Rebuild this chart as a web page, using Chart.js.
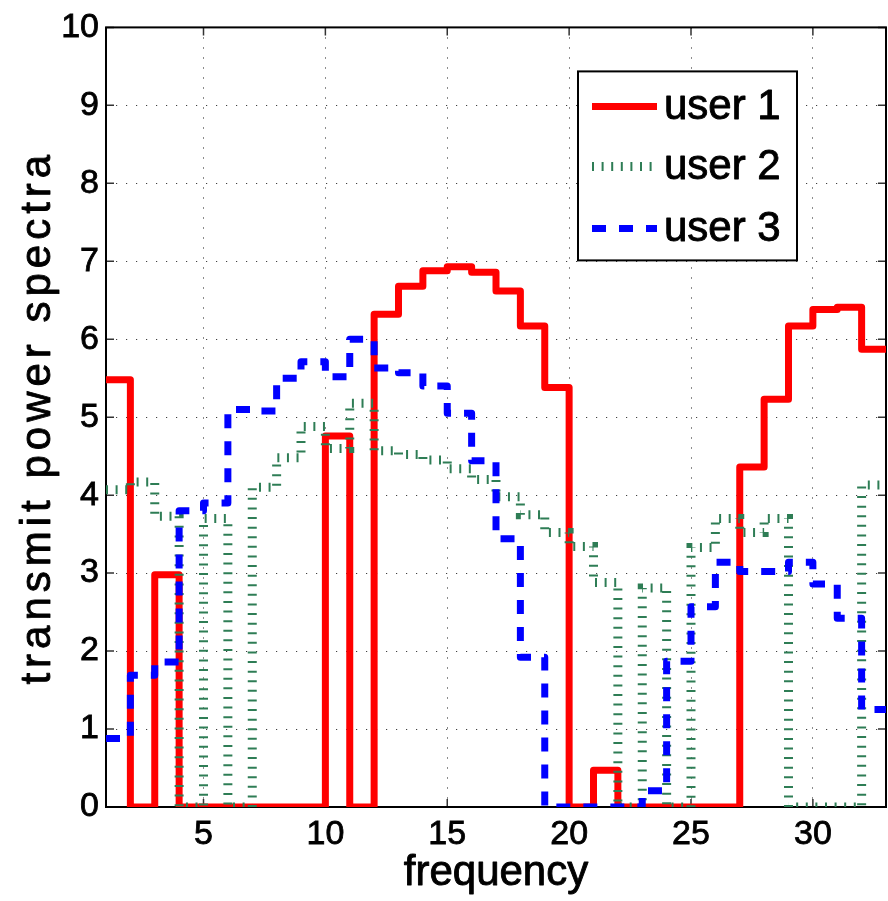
<!DOCTYPE html>
<html>
<head>
<meta charset="utf-8">
<script src="https://cdn.jsdelivr.net/npm/chart.js@4"></script>
<style>
  html, body { margin: 0; padding: 0; background: #fff; }
  #wrap { width: 888px; height: 901px; }
</style>
</head>
<body>
<div id="wrap"><canvas id="spectra"></canvas></div>
<script>
// frequency bins: each value holds from f to f+1
var frequency = [1,2,3,4,5,6,7,8,9,10,11,12,13,14,15,16,17,18,19,20,21,22,23,24,25,26,27,28,29,30,31,32];
var freqEnd = 33;

var user1 = [5.48, 0, 2.98, 0, 0, 0, 0, 0, 0, 4.76, 0, 6.32, 6.68, 6.88, 6.93, 6.86,
             6.62, 6.17, 5.38, 0, 0.47, 0, 0, 0, 0, 0, 4.36, 5.23, 6.17, 6.38, 6.41, 5.87];
var user2 = [4.07, 4.17, 3.73, 0, 3.70, 0, 4.10, 4.48, 4.88, 4.60, 5.18, 4.57, 4.52, 4.45, 4.34, 4.20,
             3.98, 3.75, 3.52, 3.34, 2.88, 0, 2.81, 0, 3.33, 3.70, 3.52, 3.70, 0, 0, 0, 4.13];
var user3 = [0.88, 1.69, 1.86, 3.80, 3.90, 5.10, 5.08, 5.50, 5.71, 5.52, 6.00, 5.63, 5.57, 5.40, 5.05, 4.44,
             3.44, 1.92, 0, 0, 0, 0, 0.21, 1.87, 2.57, 3.14, 3.02, 3.02, 3.14, 2.86, 2.42, 1.25];

var xTicks = [5, 10, 15, 20, 25, 30];
var yTicks = [0, 1, 2, 3, 4, 5, 6, 7, 8, 9, 10];
var xTitle = 'frequency';
var yTitle = 'transmit power spectra';

var FONT = '"Liberation Sans", Arial, Helvetica, sans-serif';

// stairs: add the closing point at the end of the last bin
function stairs(vals) {
  var pts = frequency.map(function (f, i) { return { x: f, y: vals[i] }; });
  pts.push({ x: freqEnd, y: vals[vals.length - 1] });
  return pts;
}

// slightly heavier text, like the thick print labels
function heavyText(ctx, text, x, y) {
  ctx.lineWidth = 0.9;
  ctx.strokeStyle = '#000';
  ctx.lineJoin = 'round';
  ctx.strokeText(text, x, y);
  ctx.fillText(text, x, y);
}

// box around the axes plus inward tick marks on all four sides
var frameBox = {
  id: 'frameBox',
  beforeDatasetsDraw: function (chart) {
    var ctx = chart.ctx, a = chart.chartArea;
    var xs = chart.scales.x, ys = chart.scales.y;
    ctx.save();
    ctx.strokeStyle = '#333';
    ctx.lineWidth = 1.5;
    ctx.beginPath();
    xs.ticks.forEach(function (t) {
      var px = xs.getPixelForValue(t.value);
      ctx.moveTo(px, a.bottom); ctx.lineTo(px, a.bottom - 8);
      ctx.moveTo(px, a.top); ctx.lineTo(px, a.top + 8);
    });
    ys.ticks.forEach(function (t) {
      var py = ys.getPixelForValue(t.value);
      ctx.moveTo(a.left, py); ctx.lineTo(a.left + 8, py);
      ctx.moveTo(a.right, py); ctx.lineTo(a.right - 8, py);
    });
    ctx.stroke();
    ctx.strokeStyle = '#000';
    ctx.lineWidth = 2;
    ctx.strokeRect(a.left, a.top, a.right - a.left, a.bottom - a.top);
    ctx.restore();
  }
};

// axis titles; the rotated one is letter-spaced
var axisTitles = {
  id: 'axisTitles',
  afterDraw: function (chart) {
    var ctx = chart.ctx, a = chart.chartArea;
    ctx.save();
    ctx.font = '42px ' + FONT;
    ctx.fillStyle = '#000';
    ctx.textAlign = 'center';
    ctx.textBaseline = 'middle';
    heavyText(ctx, xTitle, (a.left + a.right) / 2, 873);
    ctx.translate(38, (a.top + a.bottom) / 2);
    ctx.rotate(-Math.PI / 2);
    if ('letterSpacing' in ctx) ctx.letterSpacing = '5px';
    heavyText(ctx, yTitle, 0, 0);
    ctx.restore();
  }
};

// boxed legend in the upper right of the plot
var boxLegend = {
  id: 'boxLegend',
  afterDatasetsDraw: function (chart) {
    var ctx = chart.ctx, a = chart.chartArea;
    var left = a.right - 308, top = a.top + 44, w = 219, h = 189;
    var rows = [35, 95, 157];
    ctx.save();
    ctx.fillStyle = '#fff';
    ctx.fillRect(left, top, w, h);
    ctx.strokeStyle = '#000';
    ctx.lineWidth = 2;
    ctx.strokeRect(left, top, w, h);
    chart.data.datasets.forEach(function (ds, i) {
      var y = top + rows[i];
      ctx.save();
      ctx.strokeStyle = ds.borderColor;
      ctx.lineWidth = ds.borderWidth;
      ctx.lineCap = 'butt';
      ctx.setLineDash(ds.borderDash || []);
      ctx.beginPath();
      ctx.moveTo(left + 14, y);
      ctx.lineTo(left + 79, y);
      ctx.stroke();
      ctx.restore();
      ctx.fillStyle = '#000';
      ctx.font = '42px ' + FONT;
      ctx.textBaseline = 'middle';
      ctx.textAlign = 'left';
      heavyText(ctx, ds.label, left + 86, y + 1);
    });
    ctx.restore();
  }
};

var ctx = document.getElementById('spectra');

var chart = new Chart(ctx, {
  type: 'line',
  data: {
    datasets: [
      {
        label: 'user 1',
        data: stairs(user1),
        borderColor: '#ff0000',
        borderWidth: 7,
        borderJoinStyle: 'round',
        order: 3
      },
      {
        label: 'user 2',
        data: stairs(user2),
        borderColor: '#2e7d55',
        borderWidth: 9,
        borderDash: [2, 7.6],
        borderCapStyle: 'butt',
        order: 2
      },
      {
        label: 'user 3',
        data: stairs(user3),
        borderColor: '#0000ff',
        borderWidth: 7,
        borderDash: [14, 13],
        borderCapStyle: 'butt',
        borderJoinStyle: 'round',
        order: 1
      }
    ]
  },
  options: {
    responsive: true,
    maintainAspectRatio: false,
    animation: false,
    elements: {
      point: { radius: 0 },
      line: { stepped: 'before', tension: 0, fill: false }
    },
    layout: { padding: { top: 21, right: 2, left: 0, bottom: 0 } },
    plugins: {
      legend: { display: false },
      tooltip: { enabled: false }
    },
    scales: {
      x: {
        type: 'linear',
        min: 1,
        max: freqEnd,
        afterBuildTicks: function (s) { s.ticks = xTicks.map(function (v) { return { value: v }; }); },
        afterFit: function (s) { s.height = 94; },
        ticks: {
          color: '#000', font: { family: FONT, size: 34 }, padding: 7, maxRotation: 0,
          textStrokeColor: '#000', textStrokeWidth: 0.8
        },
        grid: { color: 'rgba(0,0,0,0.75)', lineWidth: 1, drawTicks: false },
        border: { display: false, dash: [1.2, 8.8] },
        title: { display: false }
      },
      y: {
        type: 'linear',
        min: 0,
        max: 10,
        afterBuildTicks: function (s) { s.ticks = yTicks.map(function (v) { return { value: v }; }); },
        afterFit: function (s) { s.width = 106; },
        ticks: {
          color: '#000', font: { family: FONT, size: 34 }, padding: 7,
          textStrokeColor: '#000', textStrokeWidth: 0.8
        },
        grid: { color: 'rgba(0,0,0,0.75)', lineWidth: 1, drawTicks: false },
        border: { display: false, dash: [1.2, 8.8] },
        title: { display: false }
      }
    }
  },
  plugins: [frameBox, boxLegend, axisTitles]
});
</script>
</body>
</html>
